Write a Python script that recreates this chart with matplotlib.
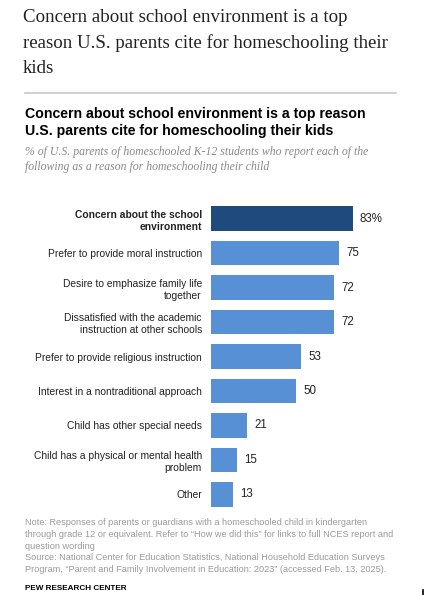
import matplotlib
matplotlib.use("Agg")
import matplotlib.pyplot as plt
from matplotlib.lines import Line2D

W, H = 442, 595

reasons = [
    "Concern about the school\nenvironment",
    "Prefer to provide moral instruction",
    "Desire to emphasize family life\ntogether",
    "Dissatisfied with the academic\ninstruction at other schools",
    "Prefer to provide religious instruction",
    "Interest in a nontraditional approach",
    "Child has other special needs",
    "Child has a physical or mental health\nproblem",
    "Other",
]
shares = [83, 75, 72, 72, 53, 50, 21, 15, 13]
value_labels = ["83%", "75", "72", "72", "53", "50", "21", "15", "13"]

dark = "#1f4a7e"
light = "#5890d5"

def fx(px):
    return px / W

def fy(py):
    return 1 - py / H

fig = plt.figure(figsize=(W / 100, H / 100), dpi=100)
fig.patch.set_facecolor("white")

# top headline
fig.text(fx(23), fy(9.5), "Concern about school environment is a top\nreason U.S. parents cite for homeschooling their\nkids",
         family="Liberation Serif", fontsize=13.6, color="#222222", va="top", ha="left", linespacing=1.58)

fig.add_artist(Line2D([fx(25), fx(396)], [fy(92.7), fy(92.7)], color="#c8c8c8", lw=1.2))

fig.text(fx(25), fy(107), "Concern about school environment is a top reason\nU.S. parents cite for homeschooling their kids",
         family="Liberation Sans", fontweight="bold", fontsize=10.2, color="#000000", va="top", ha="left", linespacing=1.3)

fig.text(fx(25), fy(146.5), "% of U.S. parents of homeschooled K-12 students who report each of the\nfollowing as a reason for homeschooling their child",
         family="Liberation Serif", style="italic", fontsize=8.5, color="#8a8a8a", va="top", ha="left", linespacing=1.3)

# bars
ax = fig.add_axes([fx(211), fy(511.5), fx(170.6), (511.5 - 201.5) / H])
ypos = list(range(len(reasons)))
colors = [dark] + [light] * (len(reasons) - 1)
ax.barh(ypos, shares, height=0.714, color=colors)
ax.set_xlim(0, 100)
ax.set_ylim(len(reasons) - 0.5, -0.5)
for y, v, lab in zip(ypos, shares, value_labels):
    ax.text(v + 4.3, y, lab, va="center", ha="left", family="Liberation Sans", fontsize=8.3, color="#222222")

ax.set_yticks(ypos)
ax.set_yticklabels(reasons, family="Liberation Sans", fontsize=7.4, color="#222222", linespacing=1.3)
ax.get_yticklabels()[0].set_fontweight("bold")
ax.tick_params(axis="y", length=0, pad=6.5)
ax.set_xticks([])
for s in ax.spines.values():
    s.set_visible(False)

note = ("Note: Responses of parents or guardians with a homeschooled child in kindergarten\n"
        "through grade 12 or equivalent. Refer to \u201cHow we did this\u201d for links to full NCES report and\n"
        "question wording\n"
        "Source: National Center for Education Statistics, National Household Education Surveys\n"
        "Program, \u201cParent and Family Involvement in Education: 2023\u201d (accessed Feb. 13, 2025).")
fig.text(fx(25), fy(518), note, family="Liberation Sans", fontsize=6.6, color="#9a9a9a", va="top", ha="left", linespacing=1.4)

fig.text(fx(25), fy(585.5), "PEW RESEARCH CENTER", family="Liberation Sans", fontweight="bold", fontsize=5.9,
         color="#000000", va="top", ha="left")

fig.add_artist(Line2D([fx(422.5), fx(422.5)], [fy(590), fy(595)], color="black", lw=1.2))

fig.savefig("out.png", dpi=100)
